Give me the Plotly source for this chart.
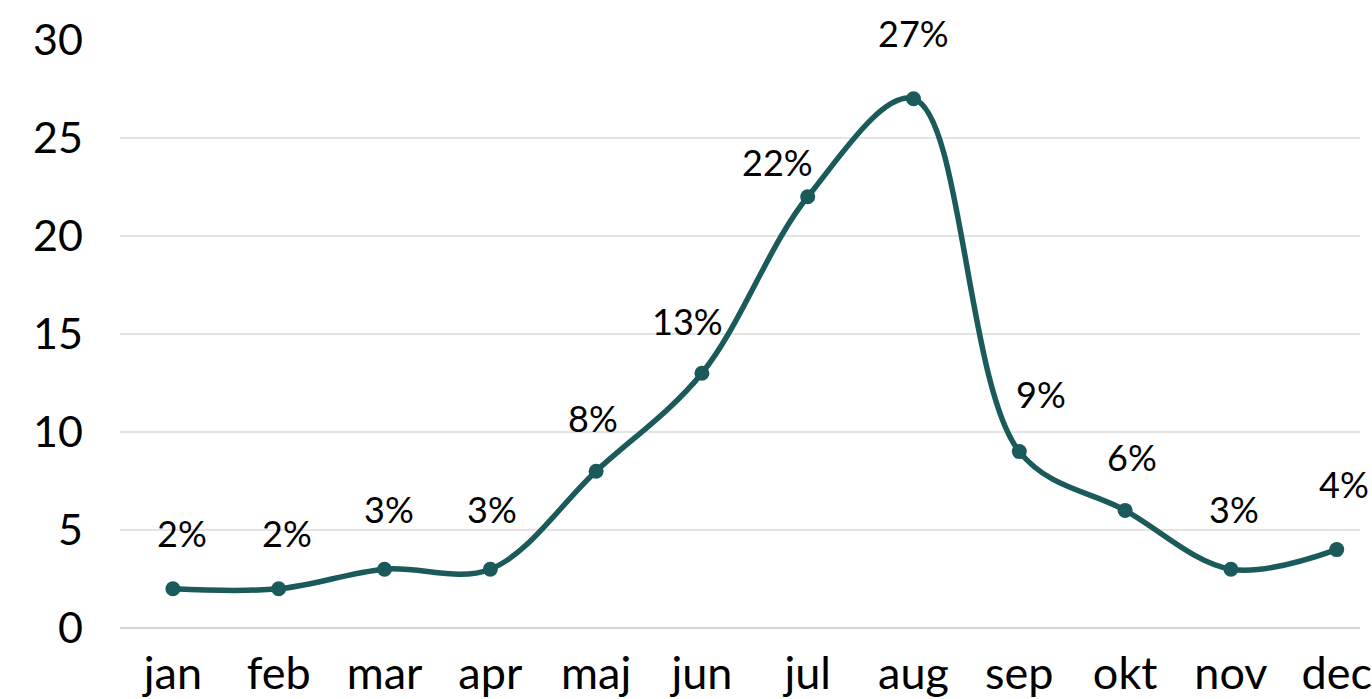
import plotly.graph_objects as go

months = ["jan", "feb", "mar", "apr", "maj", "jun", "jul", "aug", "sep", "okt", "nov", "dec"]
values = [2, 2, 3, 3, 8, 13, 22, 27, 9, 6, 3, 4]
labels = [f"{v}%" for v in values]
y_ticks = [0, 5, 10, 15, 20, 25, 30]

# label offsets in pixels (styling only)
label_dx = [9, 8, 4, 2, -3, -14, -30, 0, 22, 7, 3, 7]
label_dy = [56, 56, 60, 60, 53, 52, 35, 66, 58, 53, 60, 66]

FONT = "Lato, Noto Sans, sans-serif"
COLOR = "#1b5a5a"

x_idx = list(range(len(months)))

fig = go.Figure()
fig.add_trace(go.Scatter(
    x=x_idx, y=values, mode="lines+markers",
    line=dict(color=COLOR, width=5.5, shape="spline", smoothing=1.0),
    marker=dict(color=COLOR, size=15),
    cliponaxis=False, hoverinfo="skip",
))

for xi, v, t, dx, dy in zip(x_idx, values, labels, label_dx, label_dy):
    fig.add_annotation(x=xi, y=v, text=t, showarrow=False,
                       xshift=dx, yshift=dy,
                       font=dict(family=FONT, size=36, color="#000000"))

fig.update_layout(
    width=1372, height=699,
    margin=dict(l=120, r=0, t=40, b=71),
    paper_bgcolor="white", plot_bgcolor="white",
    showlegend=False,
    font=dict(family=FONT, color="#000000"),
)
fig.update_xaxes(
    range=[-0.5, 11.22], tickmode="array", tickvals=x_idx, ticktext=months,
    tickfont=dict(family=FONT, size=45, color="#000000"),
    showgrid=False, zeroline=False, showline=False, ticks="",
    ticklabelstandoff=15, ticklabeloverflow="allow",
)
fig.update_yaxes(
    range=[0, 30], tickmode="array", tickvals=y_ticks,
    tickfont=dict(family=FONT, size=43, color="#000000"),
    showgrid=True, gridcolor="#e4e4e4", gridwidth=2,
    zeroline=True, zerolinecolor="#d6d6d6", zerolinewidth=2,
    showline=False, ticks="", ticklabelstandoff=36,
)

fig.write_html(
    "out.html",
    config={"displayModeBar": False},
    post_script="document.body.style.margin='0';document.body.style.overflow='hidden';",
)
